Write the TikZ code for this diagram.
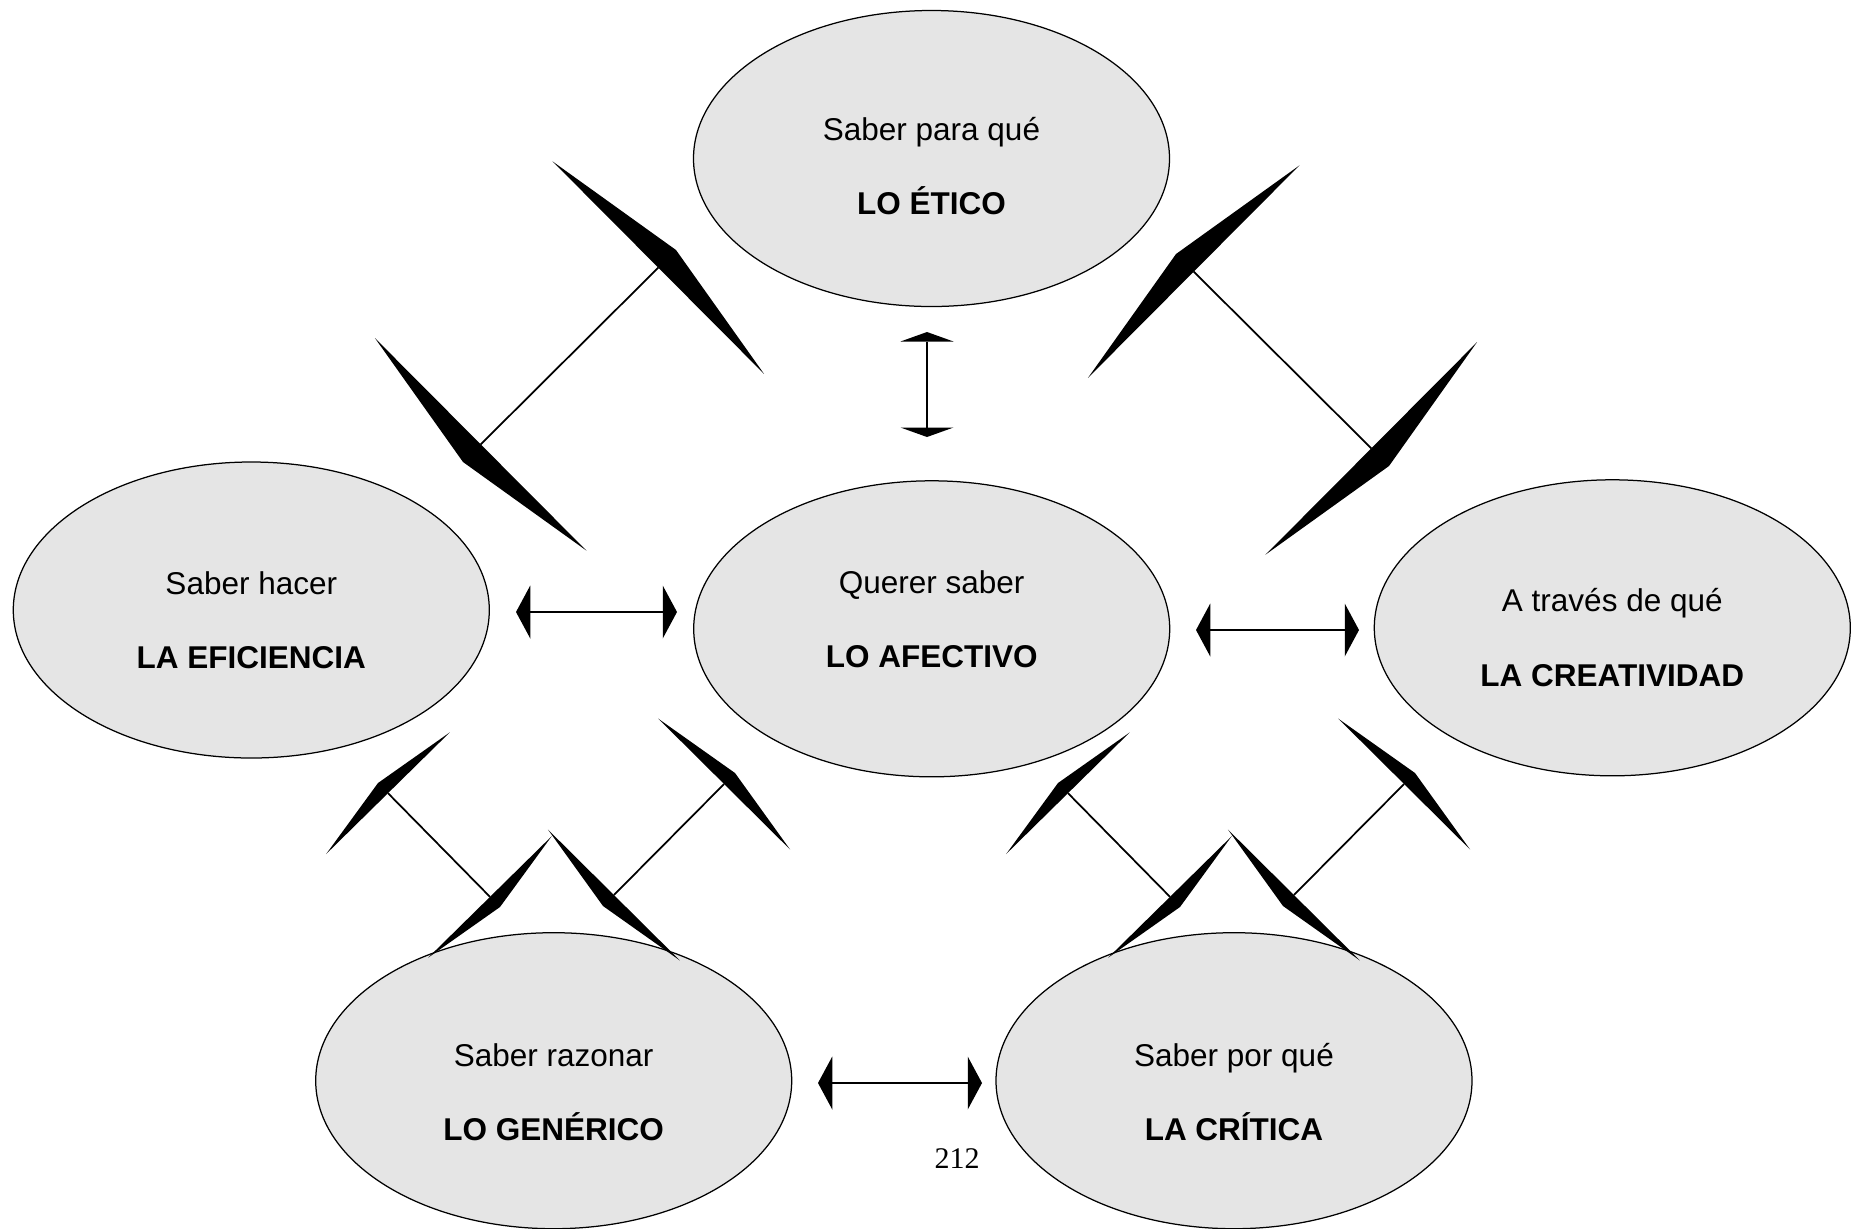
\documentclass[tikz,border=0pt]{standalone}
\usepackage{fontspec}
\setmainfont{Liberation Sans}
\newfontfamily\paginafont{Liberation Serif}
\usetikzlibrary{shapes.geometric, arrows.meta}

\tikzset{
  saber/.style={ellipse, draw, line width=0.5pt, fill=gray!20,
    minimum width=190.4pt, minimum height=118.4pt, inner sep=0pt},
  linea/.style={anchor=base, font=\fontsize{12.6}{14}\selectfont},
  titulo/.style={anchor=base, font=\fontsize{12.6}{14}\selectfont\bfseries},
  doble/.style 2 args={line width=0.7pt,
    {Triangle[width=#1, length=#2, line width=0pt]}-{Triangle[width=#1, length=#2, line width=0pt]}},
}

\begin{document}
\begin{tikzpicture}[x=0.4pt, y=-0.4pt]
  \useasboundingbox (0, 0) rectangle (1860, 1228);
  % elipses
  \node[saber] (etico) at (931.5, 158.5) {};
  \node[saber] (eficiencia) at (251.3, 610) {};
  \node[saber] (afectivo) at (931.7, 628.8) {};
  \node[saber] (creatividad) at (1612.3, 627.8) {};
  \node[saber] (generico) at (553.7, 1080.7) {};
  \node[saber] (critica) at (1234, 1080.7) {};
  % textos
  \node[linea] (etico-a) at (931.5, 140) {Saber para qué};
  \node[titulo] (etico-b) at (931.5, 214) {LO ÉTICO};
  \node[linea] (eficiencia-a) at (251.3, 594) {Saber hacer};
  \node[titulo] (eficiencia-b) at (251.3, 668.3) {LA EFICIENCIA};
  \node[linea] (afectivo-a) at (931.7, 593.3) {Querer saber};
  \node[titulo] (afectivo-b) at (931.7, 667.3) {LO AFECTIVO};
  \node[linea] (creatividad-a) at (1612.3, 611.7) {A través de qué};
  \node[titulo] (creatividad-b) at (1612.3, 686) {LA CREATIVIDAD};
  \node[linea] (generico-a) at (553.7, 1066) {Saber razonar};
  \node[titulo] (generico-b) at (553.7, 1140) {LO GENÉRICO};
  \node[linea] (critica-a) at (1234, 1066) {Saber por qué};
  \node[titulo] (critica-b) at (1234, 1140) {LA CRÍTICA};
  \node[anchor=base, font=\paginafont\fontsize{12}{14}\selectfont] (pagina) at (957, 1168) {212};

  % puntas de las flechas
  \coordinate (efet1) at (463, 462);
  \coordinate (efet2) at (676, 250);
  \coordinate (etcr1) at (1176, 254);
  \coordinate (etcr2) at (1389, 466);
  \coordinate (efge1) at (378, 783);
  \coordinate (efge2) at (500, 907);
  \coordinate (afge1) at (735, 773);
  \coordinate (afge2) at (603, 906);
  \coordinate (afcr1) at (1058, 783);
  \coordinate (afcr2) at (1180, 907);
  \coordinate (crcr1) at (1415, 773);
  \coordinate (crcr2) at (1283, 906);
  \coordinate (h1) at (516, 612);
  \coordinate (h2) at (677, 612);
  \coordinate (h3) at (1196, 630);
  \coordinate (h4) at (1359, 630);
  \coordinate (h5) at (818, 1083);
  \coordinate (h6) at (982, 1083);
  \coordinate (v1) at (927, 332);
  \coordinate (v2) at (927, 437);

  % flechas
  \draw[doble={120pt}{10pt}] (efet1) -- (efet2);
  \draw[doble={120pt}{10pt}] (etcr1) -- (etcr2);
  \draw[doble={69.4pt}{5.7pt}] (efge1) -- (efge2);
  \draw[doble={74.4pt}{6.2pt}] (afge1) -- (afge2);
  \draw[doble={69.4pt}{5.7pt}] (afcr1) -- (afcr2);
  \draw[doble={74.4pt}{6.2pt}] (crcr1) -- (crcr2);
  \draw[doble={21.2pt}{5.7pt}, line width=0.8pt] (h1) -- (h2);
  \draw[doble={21.2pt}{5.7pt}, line width=0.8pt] (h3) -- (h4);
  \draw[doble={21.2pt}{5.7pt}, line width=0.8pt] (h5) -- (h6);
  \draw[doble={21.2pt}{3.8pt}, line width=0.8pt] (v1) -- (v2);
\end{tikzpicture}
\end{document}
